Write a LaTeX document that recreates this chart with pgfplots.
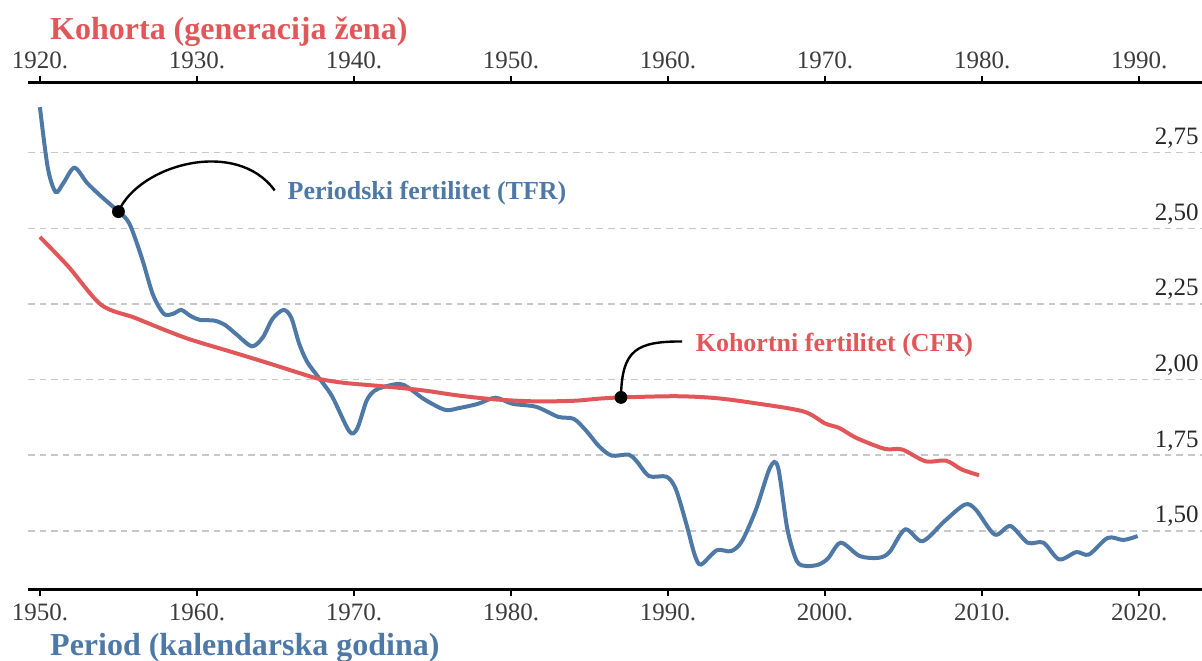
\documentclass[border=0pt]{standalone}
\usepackage{fontspec}
\setmainfont{Liberation Serif}
\usepackage{pgfplots}
\pgfplotsset{compat=1.18}

\definecolor{tfrblue}{RGB}{78,121,167}
\definecolor{cfrred}{RGB}{225,87,89}
\definecolor{gridgray}{RGB}{200,200,200}
\definecolor{ticktext}{RGB}{60,60,60}

\newcommand\tickfont{\fontsize{12.5}{15}\selectfont}
\newcommand\notefont{\fontsize{13}{16}\selectfont\bfseries}
\newcommand\titlefont{\fontsize{16}{19}\selectfont\bfseries}

\pgfplotsset{
  common/.style={
    at={(0pt,0pt)}, anchor=south west,
    scale only axis, width=587pt, height=253.3pt,
    ymin=1.307, ymax=2.981,
    tick align=outside,
    major tick length=3.5pt,
    axis line style={line width=1.5pt, black},
    xtick style={line width=1pt, black},
    ticklabel style={font=\tickfont, text=ticktext},
  },
}

\begin{document}
\begin{tikzpicture}
% period axis (bottom) with TFR
\begin{axis}[common,
  xmin=1949.24, xmax=2024,
  axis x line*=bottom,
  axis y line*=right,
  y axis line style={draw=none},
  ytick={1.5,1.75,2,2.25,2.5,2.75},
  yticklabels={{1,50},{1,75},{2,00},{2,25},{2,50},{2,75}},
  ytick style={draw=none},
  yticklabel style={anchor=base east, inner sep=0pt, yshift=4pt, xshift=-5pt, text=black!85},
  ymajorgrids,
  grid style={gridgray, line width=0.75pt, dash pattern=on 3.3pt off 2.5pt},
  xtick={1950,1960,...,2020},
  xticklabels={1950.,1960.,1970.,1980.,1990.,2000.,2010.,2020.},
]
\addplot[tfrblue, line width=2pt, smooth, tension=0.5] coordinates {
  (1950.0,2.90) (1950.5,2.70) (1951.0,2.62) (1951.5,2.65) (1952.2,2.70)
  (1953.0,2.65) (1953.8,2.61) (1955.0,2.555) (1955.7,2.515) (1956.5,2.40)
  (1957.2,2.28) (1957.9,2.217) (1958.5,2.218) (1959.0,2.23) (1959.6,2.21)
  (1960.2,2.197) (1961.1,2.195) (1961.8,2.18) (1962.5,2.15) (1963.5,2.11)
  (1964.2,2.14) (1964.8,2.20) (1965.5,2.23) (1966.0,2.205) (1966.5,2.12)
  (1967.0,2.06) (1967.7,2.01) (1968.6,1.945) (1969.7,1.829) (1970.2,1.838)
  (1970.8,1.93) (1971.3,1.963) (1971.9,1.976) (1972.9,1.986) (1973.5,1.972)
  (1974.5,1.934) (1975.8,1.90) (1976.7,1.906) (1977.9,1.92) (1979.0,1.94)
  (1980.1,1.92) (1981.6,1.91) (1983.0,1.877) (1984.0,1.87) (1984.8,1.83)
  (1985.6,1.78) (1986.4,1.749) (1987.5,1.752) (1988.0,1.73) (1988.8,1.681)
  (1989.9,1.679) (1990.5,1.637) (1991.2,1.516) (1991.7,1.42) (1992.1,1.389)
  (1993.1,1.436) (1994.0,1.433) (1994.7,1.466) (1995.6,1.571) (1996.5,1.71)
  (1997.0,1.71) (1997.6,1.505) (1998.2,1.40) (1998.8,1.384) (1999.6,1.389)
  (2000.2,1.41) (2001.0,1.461) (2002.2,1.417) (2003.4,1.411) (2004.1,1.43)
  (2005.1,1.505) (2006.2,1.466) (2007.6,1.532) (2008.9,1.587) (2009.6,1.57)
  (2010.8,1.488) (2011.8,1.516) (2012.9,1.461) (2013.9,1.461) (2014.9,1.406)
  (2016.0,1.43) (2016.8,1.422) (2018.0,1.477) (2019.0,1.47) (2019.9,1.483)
};
% annotation for TFR
\draw[black, line width=1.2pt] (axis cs:1955,2.555)
  .. controls (axis cs:1956.3,2.71) and (axis cs:1962.5,2.80) .. (axis cs:1964.95,2.625);
\addplot[only marks, mark=*, mark size=3pt, black] coordinates {(1955,2.555)};
\node[anchor=base west, inner sep=0pt, text=tfrblue, font=\notefont]
  at (axis cs:1965.75,2.594) {Periodski fertilitet (TFR)};
\end{axis}

% cohort axis (top) with CFR
\begin{axis}[common,
  xmin=1919.24, xmax=1994,
  axis x line*=top,
  axis y line=none,
  xtick={1920,1930,...,1990},
  xticklabels={1920.,1930.,1940.,1950.,1960.,1970.,1980.,1990.},
]
\addplot[cfrred, line width=2pt, smooth, tension=0.5] coordinates {
  (1920.0,2.471) (1921.8,2.374) (1923.9,2.247) (1926.0,2.205) (1927.9,2.165)
  (1929.6,2.132) (1932.1,2.093) (1934.5,2.055) (1936.5,2.022) (1937.8,2.002)
  (1939.4,1.989) (1941.8,1.978) (1944.3,1.965) (1946.7,1.947) (1949.1,1.934)
  (1951.6,1.928) (1954.0,1.930) (1955.6,1.937) (1957.0,1.941) (1960.5,1.945)
  (1963.0,1.939) (1965.4,1.923) (1968.6,1.895) (1970.0,1.855) (1970.9,1.84)
  (1972.0,1.807) (1973.8,1.771) (1974.9,1.769) (1976.4,1.73) (1977.7,1.732)
  (1978.7,1.703) (1979.8,1.684)
};
% annotation for CFR
\draw[black, line width=1.2pt] (axis cs:1957,1.941)
  .. controls (axis cs:1957.05,2.10) and (axis cs:1958.0,2.126) .. (axis cs:1960.9,2.126);
\addplot[only marks, mark=*, mark size=3pt, black] coordinates {(1957,1.941)};
\node[anchor=base west, inner sep=0pt, text=cfrred, font=\notefont]
  at (axis cs:1961.74,2.093) {Kohortni fertilitet (CFR)};
\end{axis}

\node[anchor=base west, inner sep=0pt, text=cfrred, font=\titlefont] at (10.9pt,275pt) {Kohorta (generacija žena)};
\node[anchor=base west, inner sep=0pt, text=tfrblue, font=\titlefont] at (10.9pt,-32.85pt) {Period (kalendarska godina)};

\pgfresetboundingbox
\path[use as bounding box] (-14pt,-35.35pt) rectangle (587pt,294.65pt);
\end{tikzpicture}
\end{document}
